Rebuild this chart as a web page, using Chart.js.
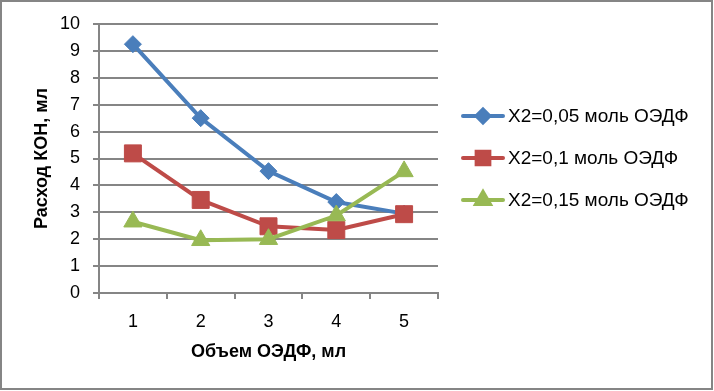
<!DOCTYPE html>
<html>
<head>
<meta charset="utf-8">
<script src="https://cdn.jsdelivr.net/npm/chart.js@4/dist/chart.umd.min.js"></script>
<style>
  html, body { margin: 0; padding: 0; background: #fff; }
  #wrap { width: 714px; height: 391px; position: relative; }
</style>
</head>
<body>
<div id="wrap"><canvas id="c" width="714" height="391"></canvas></div>
<script>
const categories = ['1', '2', '3', '4', '5'];
const seriesNames = ['X2=0,05 моль ОЭДФ', 'X2=0,1 моль ОЭДФ', 'X2=0,15 моль ОЭДФ'];
const series005 = [9.25, 6.5, 4.53, 3.38, 2.95];
const series01 = [5.19, 3.46, 2.48, 2.34, 2.93];
const series015 = [2.65, 1.96, 2.0, 2.88, 4.52];
const yTicks = [0, 1, 2, 3, 4, 5, 6, 7, 8, 9, 10];
const xTitle = 'Объем ОЭДФ, мл';
const yTitle = 'Расход КОН, мл';

const FONT = "'Liberation Sans', Arial, sans-serif";
const GRID = '#858585';

const frame = {
  id: 'frame',
  beforeDraw(chart) {
    const ctx = chart.ctx;
    ctx.save();
    ctx.fillStyle = '#fff';
    ctx.fillRect(0, 0, chart.width, chart.height);
    ctx.restore();
  },
  afterDraw(chart) {
    const ctx = chart.ctx;
    ctx.save();
    ctx.strokeStyle = GRID;
    ctx.lineWidth = 2;
    ctx.strokeRect(1, 1, 711, 388);
    ctx.restore();
  }
};

const legendPlugin = {
  id: 'lineLegend',
  afterDraw(chart) {
    const ctx = chart.ctx;
    const rows = [116, 158, 200];
    chart.data.datasets.forEach((ds, i) => {
      const y = rows[i];
      ctx.save();
      ctx.strokeStyle = ds.borderColor;
      ctx.lineWidth = ds.borderWidth;
      ctx.lineCap = 'round';
      ctx.beginPath();
      ctx.moveTo(463, y);
      ctx.lineTo(503, y);
      ctx.stroke();
      Chart.helpers.drawPoint(ctx, {
        pointStyle: ds.pointStyle,
        radius: ds.pointRadius * 0.75,
        borderWidth: 1
      }, 483, y);
      ctx.fillStyle = ds.pointBackgroundColor;
      ctx.fill();
      ctx.fillStyle = '#000';
      ctx.font = '19px ' + FONT;
      ctx.textBaseline = 'middle';
      ctx.textAlign = 'left';
      ctx.fillText(ds.label, 508, y + 1);
      ctx.restore();
    });
  }
};

function mk(label, data, color, style, r, order) {
  return {
    label, data, order,
    borderColor: color,
    backgroundColor: color,
    pointBackgroundColor: color,
    pointBorderColor: color,
    borderWidth: 4,
    pointStyle: style,
    pointRadius: r,
    pointHoverRadius: r,
    pointBorderWidth: 1,
    tension: 0,
    fill: false
  };
}

new Chart(document.getElementById('c'), {
  type: 'line',
  data: {
    labels: categories,
    datasets: [
      mk(seriesNames[0], series005, '#4A7EBB', 'rectRot', 8.5, 3),
      mk(seriesNames[1], series01, '#BE4B48', 'rect', 12, 2),
      mk(seriesNames[2], series015, '#98B954', 'triangle', 10.5, 1)
    ]
  },
  options: {
    responsive: false,
    animation: false,
    events: [],
    layout: { padding: { top: 24, right: 276, bottom: 0, left: 0 } },
    plugins: {
      legend: { display: false },
      tooltip: { enabled: false }
    },
    scales: {
      x: {
        type: 'category',
        offset: true,
        afterFit(s) { s.height = 98; },
        grid: {
          display: true, offset: true, drawOnChartArea: false,
          drawTicks: true, tickLength: 6, color: GRID, lineWidth: 2
        },
        border: { display: true, color: GRID, width: 2 },
        ticks: { color: '#000', font: { family: FONT, size: 18 }, padding: 12, maxRotation: 0 },
        title: {
          display: true, text: xTitle, color: '#000',
          font: { family: FONT, size: 18, weight: 'bold' },
          padding: { top: 0, bottom: 28 }
        }
      },
      y: {
        min: 0, max: 10,
        afterFit(s) { s.width = 99; },
        afterBuildTicks(s) { s.ticks = yTicks.map(v => ({ value: v })); },
        grid: {
          display: true, drawTicks: true, tickLength: 6, color: GRID, lineWidth: 2
        },
        border: { display: true, color: GRID, width: 2 },
        ticks: { color: '#000', font: { family: FONT, size: 18 }, padding: 13 },
        title: {
          display: true, text: yTitle, color: '#000',
          font: { family: FONT, size: 18, weight: 'bold' },
          padding: { top: 31, bottom: 0 }
        }
      }
    }
  },
  plugins: [frame, legendPlugin]
});
</script>
</body>
</html>
